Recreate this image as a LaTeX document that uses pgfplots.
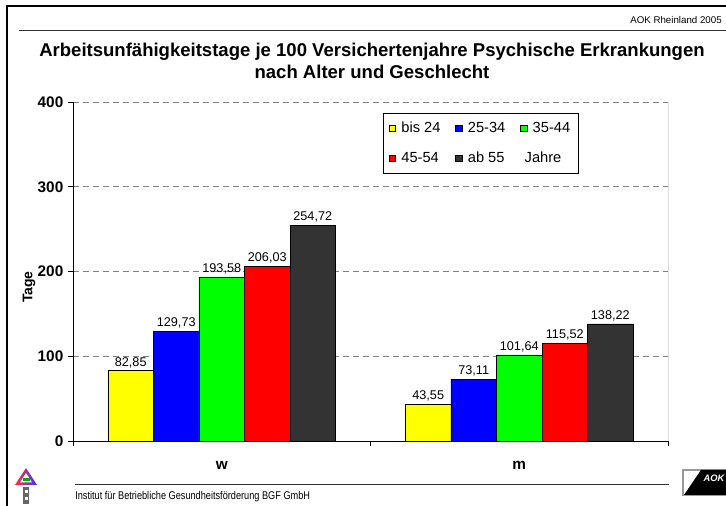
\documentclass[border=0pt]{standalone}
\usepackage{fontspec}
\setmainfont{Liberation Sans}
\newfontfamily\narrowfont[FakeStretch=0.82]{Liberation Sans}
\usepackage{pgfplots}
\pgfplotsset{compat=1.18}

\definecolor{barYellow}{RGB}{255,255,0}
\definecolor{barBlue}{RGB}{0,0,255}
\definecolor{barGreen}{RGB}{0,255,0}
\definecolor{barRed}{RGB}{255,0,0}
\definecolor{barDark}{RGB}{51,51,51}
\definecolor{gridGray}{RGB}{128,128,128}

\begin{document}
\begin{tikzpicture}[x=0.75pt,y=0.75pt]
\useasboundingbox (0,0) rectangle (726,506);
\fill[white] (0,0) rectangle (726,506);

% frame and header
\draw[line width=0.9pt] (7,0) -- (7,500) -- (726,500);
\draw[line width=0.7pt, black!80] (19,476) -- (726,476);
\node[anchor=base east, inner sep=0pt, font=\fontsize{7.3}{9}\selectfont] at (722,482) {AOK Rheinland 2005};
\node[align=center, font=\bfseries\fontsize{13.9}{16.5}\selectfont, inner sep=0pt] at (372,445)
  {Arbeitsunfähigkeitstage je 100 Versichertenjahre Psychische Erkrankungen\\nach Alter und Geschlecht};

\begin{axis}[
  at={(54.75pt,48.75pt)}, anchor=south west, scale only axis,
  width=446.25pt, height=254.25pt,
  xmin=-0.5, xmax=1.5, ymin=0, ymax=400,
  ybar=0pt, bar width=0.153,
  axis x line*=bottom, axis y line*=left,
  axis line style={line width=0.7pt},
  tick align=outside, major tick length=3.75pt,
  tick style={black, line width=0.6pt},
  xtick={-0.5,0.5,1.5}, xticklabels={},
  extra x ticks={0,1}, extra x tick labels={w,m},
  extra x tick style={major tick length=0pt},
  ytick={0,100,200,300,400},
  ymajorgrids,
  major grid style={gridGray, line width=0.7pt, dash pattern=on 4.5pt off 3pt},
  /pgf/number format/assume math mode=true,
  yticklabel style={font=\bfseries\fontsize{11.5}{13}\selectfont},
  xticklabel style={font=\bfseries\fontsize{11.5}{13}\selectfont, yshift=-12pt},
  ylabel={Tage},
  ylabel style={font=\bfseries\fontsize{10.5}{12}\selectfont, at={(ticklabel cs:0.454)}, yshift=-5pt},
  legend style={at={(0.521,0.9676)}, anchor=north west, draw=black, line width=0.6pt,
    font=\fontsize{11}{13}\selectfont, legend columns=3,
    /tikz/every even column/.append style={column sep=9pt},
    row sep=9pt, inner xsep=4pt, inner ysep=4.5pt},
  legend cell align=left,
  legend image code/.code={\draw[#1,draw=black,line width=0.5pt] (0pt,-2.5pt) rectangle (5pt,2.5pt);
    \path (7pt,0pt);},
  nodes near coords={\pgfmathprintnumber[fixed,fixed zerofill,precision=2,use comma]{\pgfplotspointmeta}},
  every node near coord/.append style={font=\fontsize{9.5}{11}\selectfont, black, inner sep=2pt},
  every axis plot/.append style={draw=black, line width=0.5pt},
]
\addplot[fill=barYellow] coordinates {(0,82.85) (1,43.55)};
\addlegendentry{bis 24}
\addplot[fill=barBlue] coordinates {(0,129.73) (1,73.11)};
\addlegendentry{25-34}
\addplot[fill=barGreen] coordinates {(0,193.58) (1,101.64)};
\addlegendentry{35-44}
\addplot[fill=barRed] coordinates {(0,206.03) (1,115.52)};
\addlegendentry{45-54}
\addplot[fill=barDark] coordinates {(0,254.72) (1,138.22)};
\addlegendentry{ab 55}
\addlegendimage{empty legend}
\addlegendentry{\hspace*{-6pt}Jahre}
\draw[line width=0.7pt] (rel axis cs:1,0) -- (rel axis cs:1,1);
\end{axis}

% footer
\draw[line width=0.7pt, black!80] (75,22) -- (669,22);
\node[anchor=base west, inner sep=0pt, font=\narrowfont\fontsize{8.4}{10}\selectfont] at (75,6) {Institut für Betriebliche Gesundheitsförderung BGF GmbH};

% left logo
\shade[left color=red!80, right color=blue!80] (15,21) -- (37,21) -- (26,38) -- cycle;
\fill[white] (20,23.5) -- (32,23.5) -- (26,33) -- cycle;
\fill[green!70!black] (22.5,25) rectangle (29.5,28);
\fill[black!60] (23,2) rectangle (29,19);
\fill[white] (24.5,13) rectangle (27.5,16);
\fill[white] (24.5,6) rectangle (27.5,9);

% right logo
\draw[black!40, line width=0.8pt] (683,11) rectangle (726,36);
\fill[black] (684,11) -- (726,11) -- (726,36) -- (701,36) -- cycle;
\node[white, font=\bfseries\itshape\fontsize{7}{8}\selectfont, inner sep=0pt] at (714,28) {AOK};
\end{tikzpicture}
\end{document}
